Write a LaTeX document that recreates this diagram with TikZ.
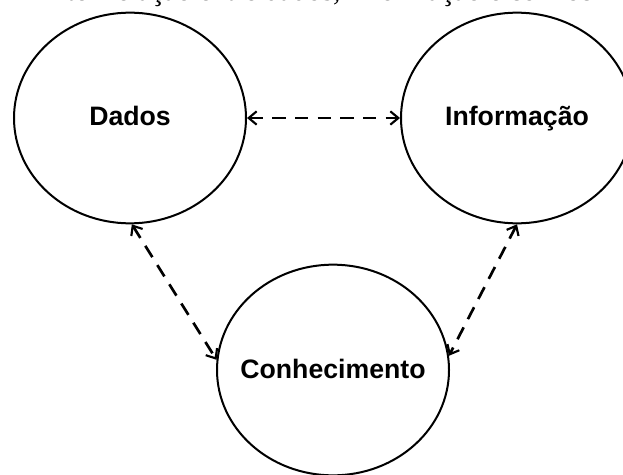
\documentclass[tikz,border=0pt]{standalone}
\usepackage{fontspec}
\setmainfont{Liberation Serif}
\newfontfamily\diagfont{Liberation Sans}
\usetikzlibrary{arrows.meta,shapes.geometric}
\tikzset{
  kbellipse/.style={ellipse, draw=black, line width=1.5pt, minimum width=174pt,
                    minimum height=158pt, inner xsep=-14pt, inner ysep=0pt,
                    text height=15pt, text depth=3pt,
                    font=\diagfont\bfseries\fontsize{20}{24}\selectfont},
  kblink/.style={{Straight Barb[length=6pt,width=10pt,line width=1.6pt]}-{Straight Barb[length=6pt,width=10pt,line width=1.6pt]},
                 line width=2pt, dash pattern=on 10pt off 7pt, black},
  kbcaption/.style={anchor=base west, inner sep=0pt, font=\fontsize{22}{26}\selectfont},
}
\begin{document}
\begin{tikzpicture}[x=0.75pt, y=-0.75pt]
  \useasboundingbox (0,0) rectangle (623,474);
  \node[kbcaption] (cap) at (-2,1) {1 -- Inter-relação entre dados, informação e conhecimento};
  \node[kbellipse] (dados) at (130,118) {Dados};
  \node[kbellipse] (info)  at (517,118) {Informação};
  \node[kbellipse] (conh)  at (333,370) {Conhecimento};
  \draw[kblink] (dados.east) -- (info.west);
  \draw[kblink] (dados.-89) -- (conh.175);
  \draw[kblink] (info.south) -- (conh.7);
\end{tikzpicture}
\end{document}
